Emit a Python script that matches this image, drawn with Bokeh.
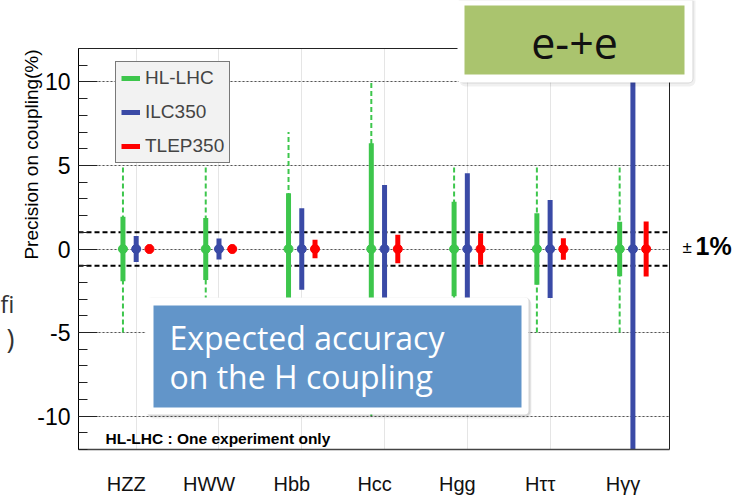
import numpy as np
from bokeh.plotting import figure
from bokeh.models import (Range1d, LinearAxis, FixedTicker, CustomJSTickFormatter, Grid,
                          ColumnDataSource, Span, Label, BoxAnnotation, Legend, LegendItem)
from bokeh.embed import file_html
from bokeh.resources import INLINE

# ---------------- data ----------------
categories = ["HZZ", "HWW", "Hbb", "Hcc", "Hgg", "Hττ", "Hγγ"]
hl_lhc_err = [1.93, 1.86, 3.33, 6.33, 2.83, 2.14, 1.63]      # thick green bar (+/-)
hl_lhc_range = [5, 5, 7, 10, 5, 5, 5]                        # dashed green extent (+/-)
ilc350_err = [0.78, 0.63, 2.44, 3.83, 4.53, 2.93, 12.0]
tlep350_err = [0.25, 0.25, 0.55, 0.85, 0.95, 0.65, 1.65]
series_names = ["HL-LHC", "ILC350", "TLEP350"]
y_ticks = [-10, -5, 0, 5, 10]
y_minor = list(range(-12, 13))
band = [-1, 1]

GREEN, BLUE, RED = "#3dc64c", "#3a4aa6", "#ff0000"
OFFSETS = [-0.16, 0.0, 0.16]
LABEL_SHIFT = -0.12

W, H = 741, 497
FL, FR, FT, FB = 78, 669, 48, 449   # frame edges in page px
ABS = {"position": "absolute", "left": "0px", "top": "0px"}

p = figure(width=W, height=H, output_backend="svg", toolbar_location=None,
           x_range=Range1d(-0.697, 6.442), y_range=Range1d(-12, 12),
           x_axis_location=None, y_axis_location=None,
           min_border_left=FL, min_border_right=W - FR,
           min_border_top=FT, min_border_bottom=H - FB)
p.styles = dict(ABS)
p.outline_line_color = None
p.background_fill_color = "white"
p.border_fill_color = "white"

idx = np.arange(len(categories))
n = len(categories)
src = ColumnDataSource(dict(
    xg=idx + OFFSETS[0], xb=idx + OFFSETS[1], xr=idx + OFFSETS[2],
    g_lo=-np.array(hl_lhc_err), g_hi=np.array(hl_lhc_err),
    gr_lo=-np.array(hl_lhc_range, float), gr_hi=np.array(hl_lhc_range, float),
    b_lo=-np.array(ilc350_err), b_hi=np.array(ilc350_err),
    r_lo=-np.array(tlep350_err), r_hi=np.array(tlep350_err),
    zero=np.zeros(n)))

# axes
yax = LinearAxis(ticker=FixedTicker(ticks=y_ticks, minor_ticks=y_minor),
                 formatter=CustomJSTickFormatter(code="return String(tick);"))
yax.major_tick_in = 19
yax.major_tick_out = 0
yax.minor_tick_in = 9
yax.minor_tick_out = 0
yax.major_label_standoff = 8
yax.major_label_text_font = "Liberation Sans"
yax.major_label_text_font_size = "23px"
yax.major_label_text_color = "black"
yax.axis_line_color = "black"
yax.major_tick_line_color = "#222"
yax.minor_tick_line_color = "#222"
p.add_layout(yax, "left")

xax = LinearAxis(ticker=FixedTicker(ticks=list(idx + LABEL_SHIFT)),
                 formatter=CustomJSTickFormatter(args=dict(labels=categories, shift=LABEL_SHIFT),
                                                 code="return labels[Math.round(tick - shift)];"))
xax.major_tick_line_color = None
xax.minor_tick_line_color = None
xax.major_label_standoff = 17
xax.major_label_text_font = "Liberation Sans"
xax.major_label_text_font_size = "20px"
xax.major_label_text_color = "#111"
xax.axis_line_color = "#444"
xax.axis_line_width = 1.5
p.add_layout(xax, "below")

for loc in ("right", "above"):
    ax = LinearAxis(ticker=FixedTicker(ticks=[]))
    ax.major_label_text_font_size = "0px"
    ax.major_tick_line_color = None
    ax.minor_tick_line_color = None
    ax.axis_line_color = "#222"
    p.add_layout(ax, loc)

g = Grid(dimension=1, ticker=FixedTicker(ticks=y_ticks))
g.grid_line_color = "#555"
g.grid_line_dash = "2 2"
g.grid_line_width = 1
p.add_layout(g)

for yv in band:
    p.add_layout(Span(location=yv, dimension="width", line_color="black",
                      line_width=2, line_dash="5 3", level="underlay"))

# bars
p.segment(x0="xg", y0="gr_lo", x1="xg", y1="gr_hi", source=src,
          line_color=GREEN, line_width=2, line_dash="5 3")
r_g = p.segment(x0="xg", y0="g_lo", x1="xg", y1="g_hi", source=src,
                line_color=GREEN, line_width=5)
r_b = p.segment(x0="xb", y0="b_lo", x1="xb", y1="b_hi", source=src,
                line_color=BLUE, line_width=5)
r_r = p.segment(x0="xr", y0="r_lo", x1="xr", y1="r_hi", source=src,
                line_color=RED, line_width=5)
p.scatter(x="xg", y="zero", source=src, size=9, color=GREEN)
p.scatter(x="xb", y="zero", source=src, size=9, color=BLUE)
p.scatter(x="xr", y="zero", source=src, size=9, color=RED)

legend = Legend(items=[LegendItem(label=series_names[0], renderers=[r_g]),
                       LegendItem(label=series_names[1], renderers=[r_b]),
                       LegendItem(label=series_names[2], renderers=[r_r])],
                location=(115 - FL, FB - 163), margin=0, padding=5, spacing=12,
                label_height=22, glyph_height=22, glyph_width=19, label_standoff=5,
                label_text_font="Liberation Sans", label_text_font_size="19px",
                background_fill_color="#f2f2f2", background_fill_alpha=1.0,
                border_line_color="black", border_line_width=1)
p.add_layout(legend)

# ---------------- decorative overlay (page-pixel coordinates) ----------------
d = figure(width=W, height=H, output_backend="svg", toolbar_location=None,
           x_range=Range1d(0, W), y_range=Range1d(H, 0),
           x_axis_location=None, y_axis_location=None, min_border=0)
d.styles = dict(ABS)
d.outline_line_color = None
d.background_fill_alpha = 0
d.border_fill_alpha = 0
d.xgrid.visible = False
d.ygrid.visible = False


def box(x0, y0, x1, y1, color, alpha=1.0, radius=0):
    d.add_layout(BoxAnnotation(left=x0, right=x1, top=y0, bottom=y1,
                               fill_color=color, fill_alpha=alpha, line_color=None,
                               border_radius=radius))


def label(X, Y, text, size, font="Liberation Sans", color="black", align="left",
          style="normal", angle=0.0):
    d.add_layout(Label(x=X, y=Y, text=text,
                       text_font=font, text_font_size=size, text_color=color,
                       text_align=align, text_baseline="middle", text_font_style=style,
                       angle=angle))


label(31, 154, "Precision on coupling(%)", "19px", align="center", angle=np.pi / 2)
label(105, 437.5, "HL-LHC : One experiment only", "15.5px", style="bold")
label(682, 247, "±", "17px")
label(695, 245, "1%", "25px", style="bold")

label(14, 303, "fi", "24px", font="Open Sans", color="#333", align="right")
label(6, 338, ")", "27px", font="Open Sans", color="#333")

# green box (top right)
box(459, -6, 695, 86, "#000000", 0.06, 6)
box(458, -4, 693, 83, "#000000", 0.10, 5)
box(457, -4, 692, 82, "#ffffff", 1.0, 4)
box(464, 5, 684, 74, "#aac46e")
label(574, 43, "e-+e", "43px", font="Open Sans", color="#111", align="center")

# blue box
box(147, 298, 531, 418, "#000000", 0.06, 6)
box(146, 297, 530, 416, "#000000", 0.10, 5)
box(145, 297, 528, 414, "#ffffff", 1.0, 4)
box(153, 305, 521, 407, "#6295c9")
label(169, 336.5, "Expected accuracy", "32px", font="Open Sans", color="white")
label(169, 375.5, "on the H coupling", "32px", font="Open Sans", color="white")

open("out.html", "w").write(file_html([p, d], INLINE))
